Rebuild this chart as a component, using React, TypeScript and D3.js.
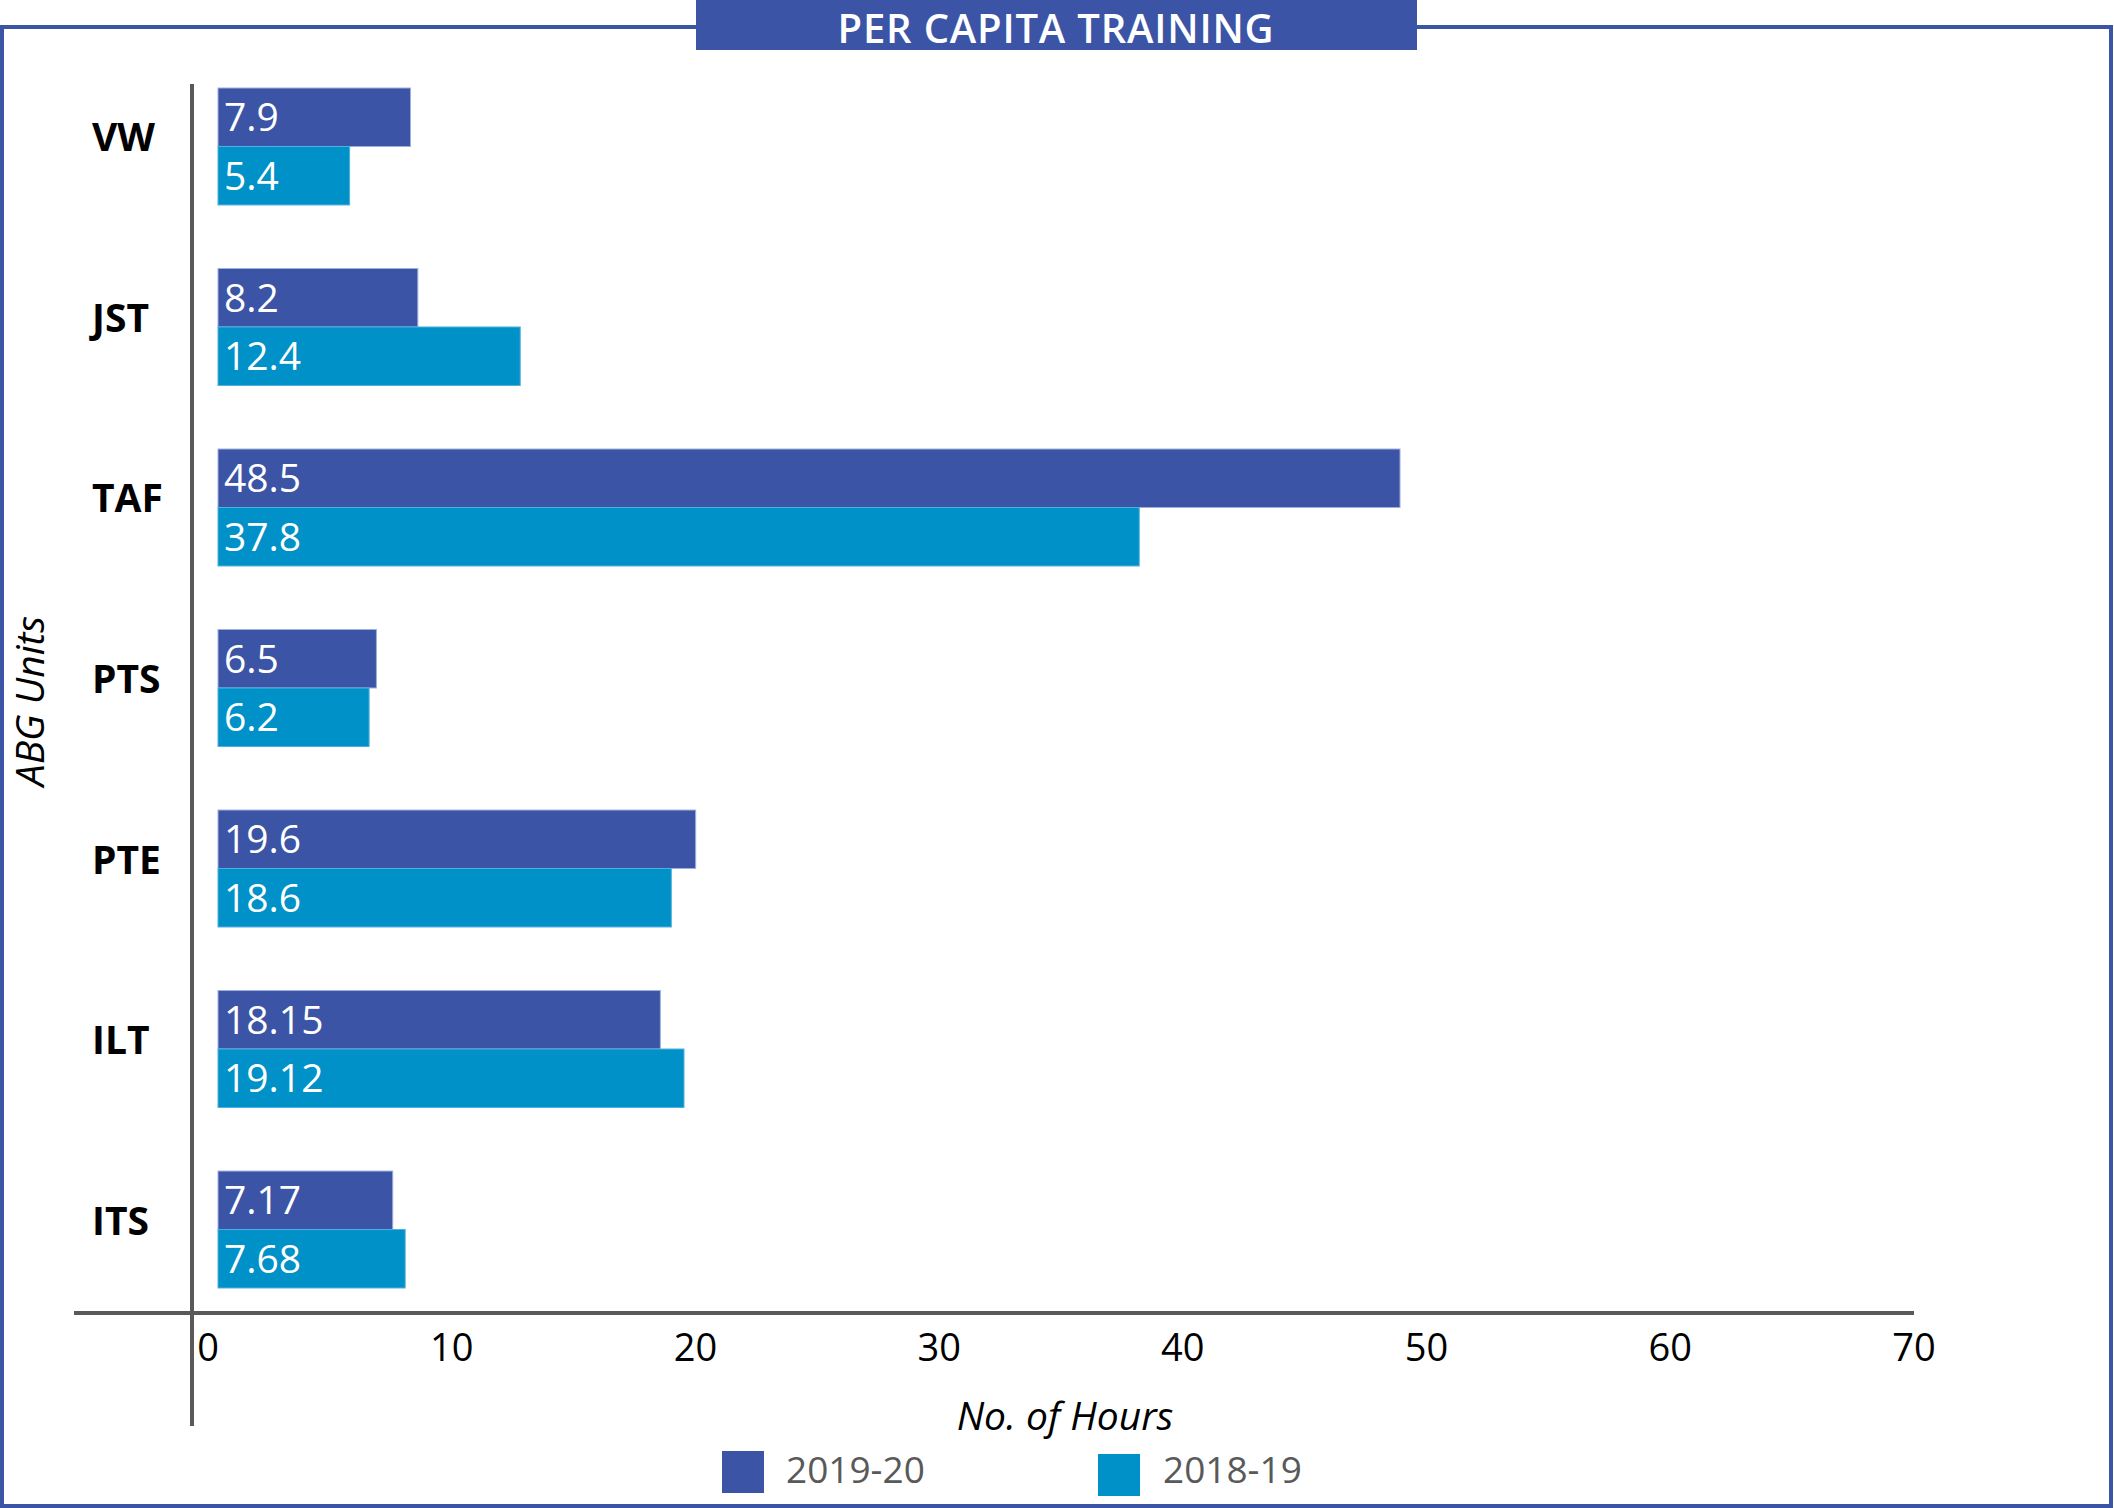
import React from "react";
import * as d3 from "d3";

const categories = ["VW", "JST", "TAF", "PTS", "PTE", "ILT", "ITS"];
const seriesNames = ["2019-20", "2018-19"];
const values2019 = [7.9, 8.2, 48.5, 6.5, 19.6, 18.15, 7.17];
const values2018 = [5.4, 12.4, 37.8, 6.2, 18.6, 19.12, 7.68];
const xTicks = [0, 10, 20, 30, 40, 50, 60, 70];

const W = 2114;
const H = 1508;
const DARK = "#3B54A5";
const LIGHT = "#0091C8";
const AXIS = "#595959";
const FONT = "'Open Sans', 'Noto Sans', sans-serif";

export default function App() {
  const x = d3.scaleLinear().domain([0, 70]).range([218, 1924]);
  const y = d3.scaleBand<string>().domain(categories).range([88, 1288]).paddingInner(0.352).paddingOuter(0);
  const ys = d3.scaleBand<string>().domain(seriesNames).range([0, y.bandwidth()]).padding(0);
  const color = d3.scaleOrdinal<string, string>().domain(seriesNames).range([DARK, LIGHT]);
  const stroke = d3.scaleOrdinal<string, string>().domain(seriesNames).range(["#9fb0dc", "#4fb0dc"]);
  const seriesValues = [values2019, values2018];

  const legendX = [722, 1098];
  const legendTextX = [786, 1163];

  return (
    <div style={{ position: "absolute", left: 0, top: 0 }}>
      <svg width={W} height={H} style={{ display: "block", background: "#fff" }} fontFamily={FONT}>
        {/* frame */}
        <rect x={2} y={27} width={2109} height={1479} fill="none" stroke={DARK} strokeWidth={4} />
        {/* title */}
        <rect x={696} y={0} width={721} height={50} fill={DARK} />
        <text x={1056} y={43} textAnchor="middle" fill="#fff" fontSize={40} fontWeight={600} letterSpacing={0.8}>
          PER CAPITA TRAINING
        </text>

        {/* bars */}
        {categories.map((c, i) => (
          <g key={c}>
            {seriesNames.map((s, si) => {
              const v = seriesValues[si][i];
              const by = (y(c) as number) + (ys(s) as number);
              return (
                <g key={s}>
                  <rect
                    x={x(0)}
                    y={by}
                    width={x(v) - x(0)}
                    height={ys.bandwidth()}
                    fill={color(s)}
                    stroke={stroke(s)}
                    strokeWidth={1}
                  />
                  <text x={x(0) + 6} y={by + ys.bandwidth() / 2 + 14} fill="#fff" fontSize={39}>
                    {String(v)}
                  </text>
                </g>
              );
            })}
            <text
              x={92}
              y={(y(c) as number) + y.bandwidth() / 2 + 5}
              fill="#000"
              fontSize={39}
              fontWeight={700}
            >
              {c}
            </text>
          </g>
        ))}

        {/* axes */}
        <line x1={192} x2={192} y1={84} y2={1426} stroke={AXIS} strokeWidth={4} />
        <line x1={74} x2={x(70) - 10} y1={1313} y2={1313} stroke={AXIS} strokeWidth={4} />
        {xTicks.map((t) => (
          <text key={t} x={x(t) - 10} y={1361} textAnchor="middle" fill="#000" fontSize={38}>
            {t}
          </text>
        ))}

        {/* axis titles */}
        <text x={1065} y={1430} textAnchor="middle" fontStyle="italic" fontSize={39} fill="#000">
          No. of Hours
        </text>
        <text
          transform="translate(44,701) rotate(-90)"
          textAnchor="middle"
          fontStyle="italic"
          fontSize={39}
          fill="#000"
        >
          ABG Units
        </text>

        {/* legend */}
        {seriesNames.map((s, i) => (
          <g key={s}>
            <rect x={legendX[i]} y={1451 + i * 3} width={42} height={42} fill={color(s)} />
            <text x={legendTextX[i]} y={1483} fill={AXIS} fontSize={37}>
              {s}
            </text>
          </g>
        ))}
      </svg>
    </div>
  );
}
